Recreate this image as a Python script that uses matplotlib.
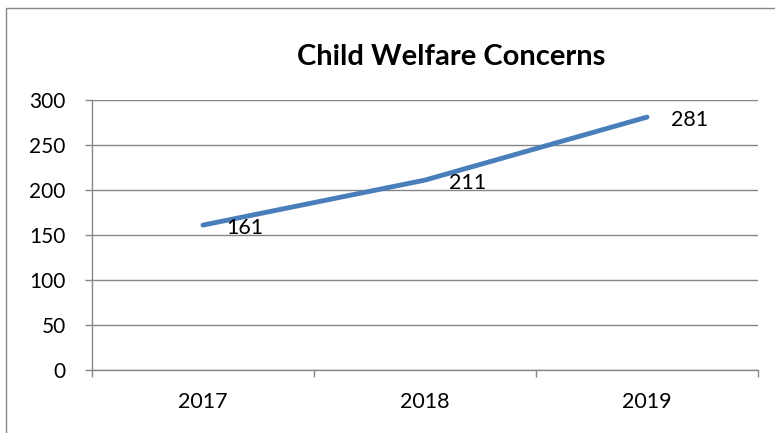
import matplotlib
matplotlib.use("Agg")
import matplotlib.pyplot as plt
from matplotlib.patches import Rectangle

years = ["2017", "2018", "2019"]
values = [161, 211, 281]
yticks = [0, 50, 100, 150, 200, 250, 300]
title = "Child Welfare Concerns"

plt.rcParams['font.family'] = ['Lato', 'DejaVu Sans']
W, H = 775, 433
fig = plt.figure(figsize=(W/100, H/100), dpi=100)
ax = fig.add_axes([92/W, 1-370/H, (758-92)/W, (370-100)/H])

grey = "#868686"
x = list(range(len(years)))
ax.plot(x, values, color="#4A7EBB", lw=3.5, solid_capstyle="round", zorder=3)
for xi, v in zip(x, values):
    ax.annotate(str(v), (xi, v), xytext=(17, -2), textcoords="offset points",
                ha="left", va="center", fontsize=15.5, color="black", zorder=4)

ax.set_xlim(-0.5, len(years)-0.5)
ax.set_ylim(0, 300)
ax.set_yticks(yticks)
ax.set_yticklabels([str(t) for t in yticks], fontsize=15)
ax.set_xticks(x)
ax.set_xticklabels(years, fontsize=15.5)
ax.set_xticks([i-0.5 for i in range(len(years)+1)], minor=True)
ax.tick_params(axis="x", which="major", length=0, pad=16)
ax.tick_params(axis="x", which="minor", length=5, color=grey, width=1)
ax.tick_params(axis="y", length=5, color=grey, width=1, pad=14)
ax.grid(axis="y", color=grey, lw=1)
ax.set_axisbelow(True)
for s in ["top", "right"]:
    ax.spines[s].set_visible(False)
for s in ["left", "bottom"]:
    ax.spines[s].set_color(grey)
    ax.spines[s].set_linewidth(1)

fig.text(451/W, 1-57/H, title, ha="center", va="center", fontsize=21, fontweight="bold")

fig.patches.append(Rectangle((6/W, -0.1), 1.2, (H-8)/H + 0.1, transform=fig.transFigure,
                             fill=False, edgecolor=grey, lw=1, clip_on=False))

fig.savefig("out.png", dpi=100)
